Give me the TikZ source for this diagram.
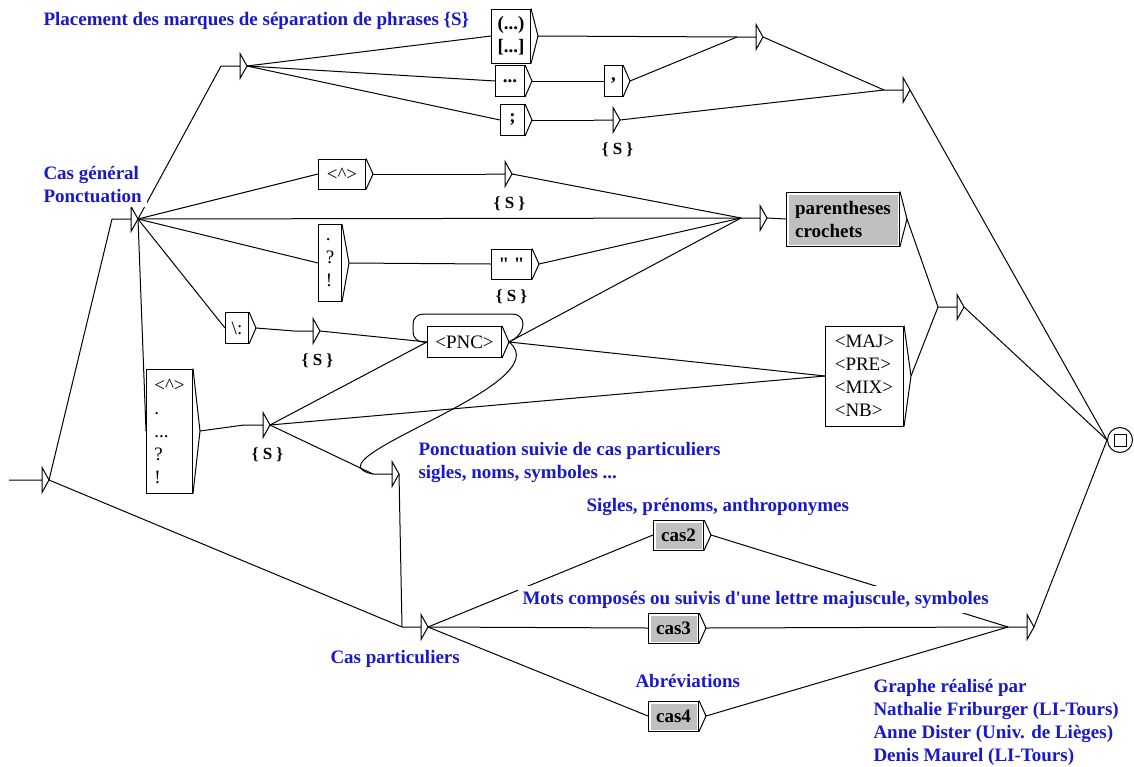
\documentclass[tikz,border=0pt]{standalone}
\usepackage{fontspec}
\setmainfont{Liberation Serif}[Ligatures=TeXOff]
\definecolor{cmtblue}{RGB}{25,25,200}
\definecolor{subgr}{RGB}{192,192,192}
\begin{document}
\begin{tikzpicture}[x=1pt,y=-1pt,line width=1pt,
    every node/.style={font=\fontsize{19}{23}\selectfont},
    box/.style={draw,anchor=west,inner sep=2pt,align=left},
    bbox/.style={box,font=\fontsize{19}{23}\selectfont\bfseries},
    gbox/.style={bbox,fill=white,path picture={\fill[subgr] ([shift={(2.5pt,-2.5pt)}]path picture bounding box.north west) rectangle ([shift={(-1.5pt,1.5pt)}]path picture bounding box.south east);}},
    eps/.style={minimum width=18pt,minimum height=24pt,inner sep=0pt,anchor=east},
    slbl/.style={font=\fontsize{17}{20}\selectfont\bfseries,inner sep=0pt,label distance=10pt},
    sout/.style={label={[slbl,xshift=14pt]below:\{ S \}}},
    cmt/.style={text=cmtblue,fill=white,inner sep=5pt,align=left,anchor=base west,font=\fontsize{19}{23}\selectfont\bfseries}]
  \path[use as bounding box,fill=white] (0,0) rectangle (1134,766);

  % etats vides
  \node[eps,minimum width=32pt] (ini) at (42,480) {};
  \node[eps] (cg) at (131,219) {};
  \node[eps] (t0) at (240,66) {};
  \node[eps,sout] (s1) at (613,120) {};
  \node[eps] (m1) at (756,37) {};
  \node[eps] (m1b) at (903,90) {};
  \node[eps,sout] (s2) at (505,174) {};
  \node[eps] (m2) at (760,218) {};
  \node[eps,sout] (s3) at (313,331) {};
  \node[eps,sout] (s4) at (263,425) {};
  \node[eps] (m3) at (957,307) {};
  \node[eps] (ps) at (392,474) {};
  \node[eps] (cp) at (421,627) {};
  \node[eps] (mb) at (1027,627) {};

  % boites
  \node[bbox,minimum width=39pt,minimum height=54pt] (par) at (491,36) {(...)\\{[...]}};
  \node[bbox,minimum width=29pt,minimum height=31pt] (dots) at (495,81) {...};
  \node[bbox,minimum width=24pt,minimum height=31pt] (semi) at (500,120) {;};
  \node[bbox,minimum width=18pt,minimum height=31pt] (comma) at (604,81) {,};
  \node[box,minimum width=47pt,minimum height=30pt] (hat) at (318,174) {<\textasciicircum>};
  \node[gbox,minimum width=113pt,minimum height=54pt] (paren) at (786,219) {parentheses\\crochets};
  \node[box,minimum width=23pt,minimum height=77pt] (pts) at (318,263) {.\\?\\!};
  \node[bbox,minimum width=40pt,minimum height=30pt,label={[slbl]below:\{ S \}}] (quo) at (491,264) {" "};
  \node[box,minimum width=23pt,minimum height=31pt] (colon) at (225,328) {\textbackslash:};
  \node[box,minimum width=74pt,minimum height=31pt] (pnc) at (427,342) {<PNC>};
  \node[box,minimum width=46pt,minimum height=124pt] (tall) at (146,431) {<\textasciicircum>\\.\\...\\?\\!};
  \node[box,minimum width=78pt,minimum height=100pt] (maj) at (825,376) {<MAJ>\\<PRE>\\<MIX>\\<NB>};
  \node[gbox,minimum width=50pt,minimum height=30pt] (cas2) at (653,535) {cas2};
  \node[gbox,minimum width=50pt,minimum height=30pt] (cas3) at (648,628) {cas3};
  \node[gbox,minimum width=50pt,minimum height=30pt] (cas4) at (648,716) {cas4};
  \node[draw,circle,minimum size=25pt,inner sep=0pt,
    path picture={\draw ([shift={(-6pt,-6pt)}]path picture bounding box.center) rectangle ++(12pt,12pt);}] (fin) at (1120,440) {};

  \foreach \n in {ini,cg,t0,s1,m1,m1b,s2,m2,s3,s4,m3,ps,cp,mb}
    \draw (\n.west) -- (\n.east) (\n.north east) -- ([xshift=7pt]\n.east) coordinate (\n-o) -- (\n.south east) -- cycle;
  \foreach \n in {par,dots,semi,comma,hat,paren,pts,quo,colon,pnc,tall,maj,cas2,cas3,cas4}
    \draw (\n.north east) -- ([xshift=7pt]\n.east) coordinate (\n-o) -- (\n.south east);

  % transitions
  \foreach \a/\b in {ini/cg,ini/cp,cg/t0,cg/hat,cg/m2,cg/pts,cg/colon,cg/tall,
      t0/par,t0/dots,t0/semi,par/m1,dots/comma,comma/m1,semi/s1,s1/m1b,m1/m1b,
      hat/s2,s2/m2,pts/quo,quo/m2,colon/s3,s3/pnc,pnc/m2,pnc/maj,
      tall/s4,s4/pnc,s4/maj,s4/ps,m2/paren,paren/m3,maj/m3,ps/cp,
      cp/cas2,cp/cas3,cp/cas4,cas2/mb,cas3/mb,cas4/mb}
    \draw (\a-o) -- (\b.west);
  \foreach \a in {m1b,m3,mb}
    \draw (\a-o) -- (fin.west);
  \draw[rounded corners=10pt] (pnc-o) -- ++(14,-8) |- ([xshift=-14pt,yshift=12pt]pnc.north west) |- (pnc.west);
  \draw (pnc-o) .. controls +(54,43) and +(-72,-14) .. (ps.west);

  % commentaires
  \node[cmt] (ttl) at (38,25) {Placement des marques de séparation de phrases \{S\}};
  \node[cmt] (cgc) at (38,202) {Cas général\\Ponctuation};
  \node[cmt] (psc) at (413,478) {Ponctuation suivie de cas particuliers\\sigles, noms, symboles ...};
  \node[cmt] (c2c) at (581,511) {Sigles, prénoms, anthroponymes};
  \node[cmt] (c3c) at (517,604) {Mots composés ou suivis d'une lettre majuscule, symboles};
  \node[cmt] (cpc) at (325,663) {Cas particuliers};
  \node[cmt] (c4c) at (630,687) {Abréviations};
  \node[cmt] (auth) at (868,761) {Graphe réalisé par\\Nathalie Friburger (LI-Tours)\\Anne Dister (Univ. de Lièges)\\Denis Maurel (LI-Tours)};
\end{tikzpicture}
\end{document}
